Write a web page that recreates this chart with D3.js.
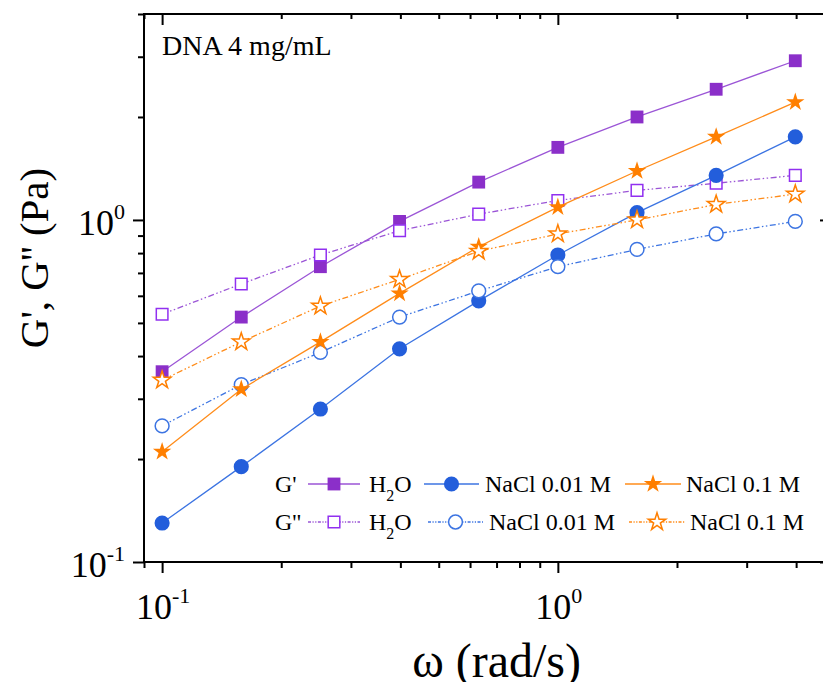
<!DOCTYPE html>
<html>
<head>
<meta charset="utf-8">
<script src="https://cdn.jsdelivr.net/npm/d3@7"></script>
<style>
  body { margin: 0; background: #fff; }
  svg { display: block; font-family: "Liberation Serif", "Times New Roman", serif; }
</style>
</head>
<body>
<div id="chart"></div>
<script>
// angular frequency (rad/s)
const omega = [0.1, 0.1585, 0.2512, 0.3981, 0.631, 1, 1.585, 2.512, 3.981];

// storage modulus G' (Pa)
const gStoreH2O = [0.36, 0.52, 0.73, 0.99, 1.29, 1.63, 2.0, 2.41, 2.92];
const gStoreNaCl001 = [0.13, 0.19, 0.28, 0.42, 0.58, 0.79, 1.05, 1.35, 1.75];
const gStoreNaCl01 = [0.21, 0.32, 0.44, 0.61, 0.835, 1.09, 1.39, 1.75, 2.21];

// loss modulus G'' (Pa)
const gLossH2O = [0.53, 0.65, 0.79, 0.93, 1.04, 1.14, 1.22, 1.28, 1.35];
const gLossNaCl001 = [0.25, 0.33, 0.41, 0.52, 0.62, 0.73, 0.82, 0.91, 0.99];
const gLossNaCl01 = [0.34, 0.44, 0.56, 0.67, 0.81, 0.91, 1.0, 1.11, 1.19];

const xMajor = [0.1, 1];
const xMinor = [0.09, 0.2, 0.3, 0.4, 0.5, 0.6, 0.7, 0.8, 0.9, 2, 3, 4];
const yMajor = [0.1, 1];
const yMinor = [0.2, 0.3, 0.4, 0.5, 0.6, 0.7, 0.8, 0.9, 2, 3, 4];

const width = 823, height = 682;
const plotLeft = 144, plotRight = 831, plotTop = 14, plotBottom = 562;

const svg = d3.select("#chart").append("svg")
    .attr("width", width)
    .attr("height", height);

const x = d3.scaleLog().domain([0.09, 4.9]).range([plotLeft, plotRight]);
const y = d3.scaleLog().domain([0.1, 4]).range([plotBottom, plotTop]);

const purple = "#8b2fc9", purpleLine = "#9b55d6", purpleOpen = "#9130f0";
const blue = "#235edb", blueLine = "#3c74e2";
const orange = "#ff7f00", orangeLine = "#ff8c1a";
const dashDot = "6 2.5 1.5 2.5 1.5 2.5";

// draw order: each G' curve then its G'' partner
const series = [
    { values: gStoreH2O, symbol: d3.symbolSquare, size: 165, fill: purple, stroke: "none", line: purpleLine, dash: null },
    { values: gLossH2O, symbol: d3.symbolSquare, size: 135, fill: "#fff", stroke: purpleOpen, line: purpleLine, dash: dashDot },
    { values: gStoreNaCl001, symbol: d3.symbolCircle, size: 180, fill: blue, stroke: "none", line: blueLine, dash: null },
    { values: gLossNaCl001, symbol: d3.symbolCircle, size: 150, fill: "#fff", stroke: blueLine, line: blueLine, dash: dashDot },
    { values: gStoreNaCl01, symbol: d3.symbolStar, size: 105, fill: orange, stroke: "none", line: orangeLine, dash: null },
    { values: gLossNaCl01, symbol: d3.symbolStar, size: 95, fill: "#fff", stroke: orange, line: orangeLine, dash: dashDot }
];

const line = d3.line()
    .x((d, i) => x(omega[i]))
    .y(d => y(d));

series.forEach(s => {
    const g = svg.append("g");
    g.append("path")
        .attr("d", line(s.values))
        .attr("fill", "none")
        .attr("stroke", s.line)
        .attr("stroke-width", 1.3)
        .attr("stroke-dasharray", s.dash);
    g.selectAll("path.pt")
        .data(s.values)
        .enter()
        .append("path")
        .attr("class", "pt")
        .attr("transform", (d, i) => `translate(${x(omega[i])},${y(d)})`)
        .attr("d", d3.symbol().type(s.symbol).size(s.size))
        .attr("fill", s.fill)
        .attr("stroke", s.stroke)
        .attr("stroke-width", 1.5);
});

// axes: ticks out on left/bottom, in on top/right
function ticks(axis, vals, size, transform) {
    const g = svg.append("g")
        .attr("transform", transform)
        .call(axis.tickValues(vals).tickSize(size).tickFormat(""));
    g.select(".domain").remove();
    g.selectAll("line").attr("stroke", "#000").attr("stroke-width", 2);
}
ticks(d3.axisBottom(x), xMajor, 11, `translate(0,${plotBottom})`);
ticks(d3.axisBottom(x), xMinor, 6, `translate(0,${plotBottom})`);
ticks(d3.axisTop(x), xMajor, -11, `translate(0,${plotTop})`);
ticks(d3.axisTop(x), xMinor, -5, `translate(0,${plotTop})`);
ticks(d3.axisLeft(y), yMajor, 11, `translate(${plotLeft},0)`);
ticks(d3.axisLeft(y), yMinor, 6, `translate(${plotLeft},0)`);
ticks(d3.axisRight(y), yMajor, -11, `translate(${plotRight},0)`);
ticks(d3.axisRight(y), yMinor, -5, `translate(${plotRight},0)`);

svg.append("rect")
    .attr("x", plotLeft).attr("y", plotTop)
    .attr("width", plotRight - plotLeft).attr("height", plotBottom - plotTop)
    .attr("fill", "none")
    .attr("stroke", "#000")
    .attr("stroke-width", 2);

// power-of-ten tick labels
function powerLabel(px, py, anchor, exp) {
    const t = svg.append("text")
        .attr("x", px).attr("y", py)
        .attr("text-anchor", anchor)
        .attr("font-size", 36);
    t.append("tspan").text("10");
    t.append("tspan").attr("dy", -16).attr("font-size", 22).text(exp);
}
xMajor.forEach(v => powerLabel(x(v) + 1, plotBottom + 57, "middle", Math.round(Math.log10(v))));
yMajor.forEach(v => powerLabel(plotLeft - 19, y(v) + 15, "end", Math.round(Math.log10(v))));

// axis titles
svg.append("text")
    .attr("x", 581).attr("y", 677)
    .attr("text-anchor", "end")
    .attr("font-size", 48)
    .text("ω (rad/s)");

svg.append("text")
    .attr("transform", "translate(48,258) rotate(-90)")
    .attr("text-anchor", "middle")
    .attr("font-size", 41)
    .text("G', G'' (Pa)");

svg.append("text")
    .attr("x", 162).attr("y", 55)
    .attr("font-size", 28)
    .text("DNA 4 mg/mL");

// legend
const legendRows = [
    { label: "G'", y: 484, items: [0, 2, 4], shift: 0 },
    { label: "G''", y: 522, items: [1, 3, 5], shift: 4 }
];
const legendNames = ["H2O", "NaCl 0.01 M", "NaCl 0.1 M"];
const legendCols = [
    { x0: 308, x1: 360, tx: 369 },
    { x0: 424, x1: 479, tx: 485 },
    { x0: 624, x1: 680, tx: 685 }
];

legendRows.forEach(row => {
    const g = svg.append("g").attr("font-size", 24);
    g.append("text").attr("x", 275).attr("y", row.y + 8).text(row.label);
    row.items.forEach((si, c) => {
        const s = series[si];
        const col = legendCols[c];
        const dx = c === 0 ? 0 : row.shift + (c === 2 ? 1 : 0);
        g.append("line")
            .attr("x1", col.x0 + dx).attr("x2", col.x1 + dx)
            .attr("y1", row.y).attr("y2", row.y)
            .attr("stroke", s.line)
            .attr("stroke-width", 1.3)
            .attr("stroke-dasharray", s.dash ? "3 1.5 1.2 1.5 1.2 1.5" : null);
        g.append("path")
            .attr("transform", `translate(${(col.x0 + col.x1) / 2 + dx},${row.y})`)
            .attr("d", d3.symbol().type(s.symbol).size(s.size))
            .attr("fill", s.fill)
            .attr("stroke", s.stroke)
            .attr("stroke-width", 1.5);
        const t = g.append("text").attr("x", col.tx + dx).attr("y", row.y + 8);
        const name = legendNames[c];
        if (name === "H2O") {
            t.append("tspan").text("H");
            t.append("tspan").attr("dy", 9).attr("font-size", 16).text("2");
            t.append("tspan").attr("dy", -9).text("O");
        } else {
            t.text(name);
        }
    });
});
</script>
</body>
</html>
